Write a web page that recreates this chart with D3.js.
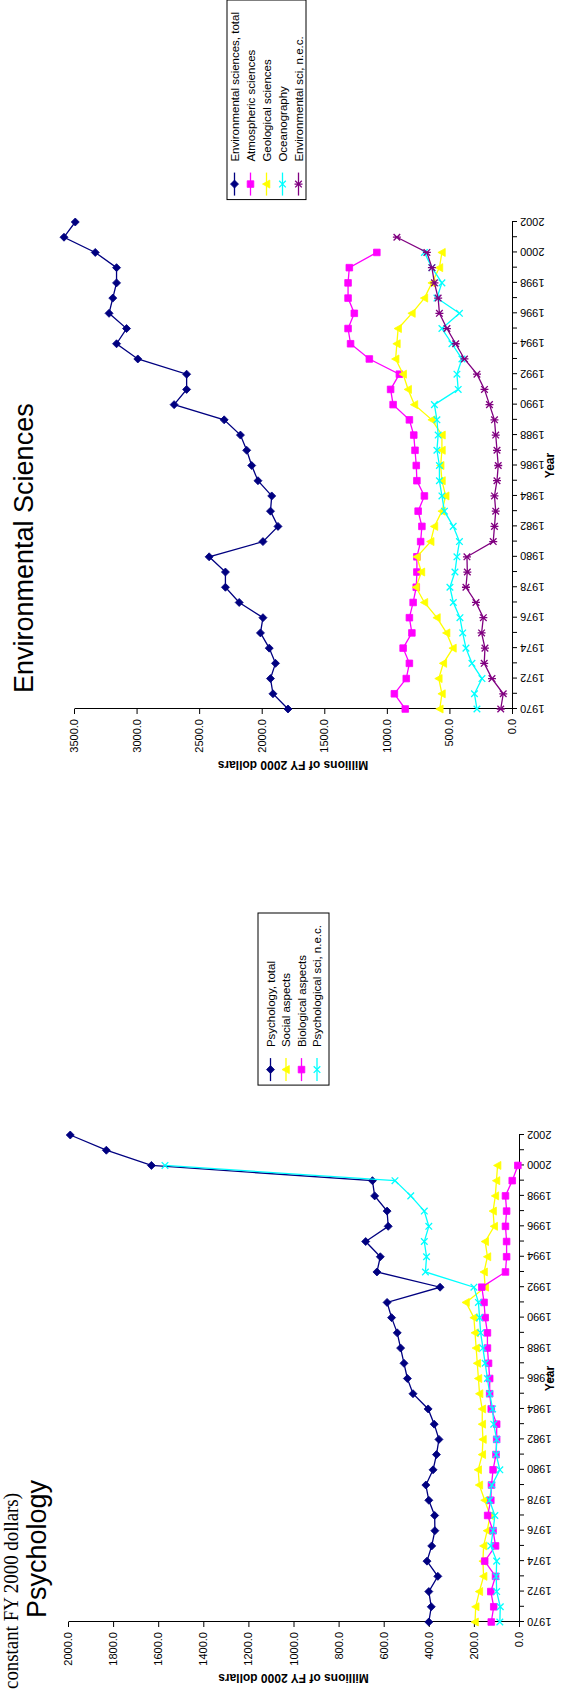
<!DOCTYPE html>
<html><head><meta charset="utf-8">
<script src="https://cdn.jsdelivr.net/npm/d3@7"></script>
<style>body{margin:0;background:#fff;overflow:hidden}</style>
</head><body>
<svg id="c" width="565" height="1690" xmlns="http://www.w3.org/2000/svg"></svg>
<script>
// ---------- DATA ----------
const years = [1970,1971,1972,1973,1974,1975,1976,1977,1978,1979,1980,1981,1982,1983,1984,1985,1986,1987,1988,1989,1990,1991,1992,1993,1994,1995,1996,1997,1998,1999,2000,2001,2002];

// Psychology
const psychTotal  = [400,389,400,360,408,387,373,374,400,413,381,366,355,376,403,470,495,510,525,540,565,585,350,630,615,680,580,585,640,650,1630,1830,1990];
const psychSocial = [195,192,176,157,160,157,141,128,152,176,181,163,160,163,163,175,180,185,190,195,200,235,150,155,140,150,110,115,105,100,95,null,null];
const psychBio    = [123,112,125,104,152,104,115,139,125,122,115,102,99,99,123,130,130,135,140,140,150,155,165,60,55,55,60,55,60,30,5,null,null];
const psychNec    = [85,83,99,101,99,125,115,107,131,120,85,101,99,112,117,130,140,150,160,170,175,180,200,415,410,420,400,420,480,550,1570,null,null];
const psychNames  = ["Psychology, total","Social aspects","Biological aspects","Psychological sci, n.e.c."];
const psychTicks  = [0,200,400,600,800,1000,1200,1400,1600,1800,2000];

// Environmental sciences
const envTotal = [1790,1910,1930,1890,1940,2010,1990,2180,2290,2290,2420,1990,1870,1930,1920,2030,2080,2120,2170,2300,2700,2600,2600,2990,3160,3080,3220,3190,3160,3160,3330,3580,3490];
const envAtmos = [853,940,845,820,870,800,820,790,765,760,760,730,720,750,700,760,765,775,785,820,950,970,900,1140,1290,1310,1260,1310,1310,1300,1080,null,null];
const envGeo   = [577,560,585,549,472,523,600,700,767,724,760,650,620,560,530,560,570,560,560,640,780,830,870,930,920,910,800,700,640,580,560,null,null];
const envOcean = [280,300,240,320,368,394,416,469,496,456,440,420,470,540,560,580,580,600,590,600,620,430,440,400,480,560,420,600,560,640,700,null,null];
const envNec   = [90,70,160,222,216,243,229,288,368,357,360,150,140,130,140,120,110,120,130,140,180,220,280,380,450,520,580,590,620,640,680,920,null];
const envNames = ["Environmental sciences, total","Atmospheric sciences","Geological sciences","Oceanography","Environmental sci, n.e.c."];
const envTicks = [0,500,1000,1500,2000,2500,3000,3500];

// ---------- STYLE ----------
const FONT = "'Liberation Sans', Arial, sans-serif";
const svg = d3.select('#c');
// whole page is the original landscape sheet rotated 90deg counter-clockwise
const root = svg.append('g').attr('transform','translate(0,1690) rotate(-90)');

function markerPath(type){
  switch(type){
    case 'diamond': return 'M0,-4L4,0L0,4L-4,0Z';
    case 'square': return 'M-3.3,-3.3H3.3V3.3H-3.3Z';
    case 'triangle': return 'M0,-4L4,3.3L-4,3.3Z';
    case 'x': return 'M-3.3,-3.3L3.3,3.3M-3.3,3.3L3.3,-3.3';
    case 'star': return 'M-3.3,-3.3L3.3,3.3M-3.3,3.3L3.3,-3.3M0,-4V4';
  }
}
function drawMarker(sel,type,color){
  const filled = (type==='diamond'||type==='square'||type==='triangle');
  sel.append('path').attr('d',markerPath(type))
    .attr('fill',filled?color:'none')
    .attr('stroke',color).attr('stroke-width',filled?0.8:1.3);
}

function drawChart(cfg){
  const g = root.append('g').attr('transform',`translate(${cfg.u0},0)`);
  const x = d3.scalePoint().domain(years).range([cfg.x0,cfg.x1]);
  const y = d3.scaleLinear().domain([0,cfg.ymax]).range([cfg.yb,cfg.yt]);

  const ya = g.append('g').attr('transform',`translate(${cfg.x0},0)`)
    .call(d3.axisLeft(y).tickValues(cfg.ticks).tickFormat(d=>d.toFixed(1)).tickSize(5).tickSizeOuter(0).tickPadding(5));
  const xa = g.append('g').attr('transform',`translate(0,${cfg.yb})`)
    .call(d3.axisBottom(x).tickValues(years).tickFormat(d=> d%2===0 ? String(d) : '').tickSize(5).tickSizeOuter(0));
  xa.selectAll('text').attr('transform','rotate(-90)').attr('text-anchor','end')
    .attr('x',-8).attr('y',0).attr('dy','0.35em');
  [ya,xa].forEach(a=>{
    a.selectAll('text').attr('font-family',FONT).attr('font-size',11).attr('fill','#000');
    a.selectAll('path,line').attr('stroke','#000').attr('stroke-width',1);
  });

  g.append('text').attr('transform',`translate(${cfg.ytU},${(cfg.yb+cfg.yt)/2}) rotate(-90)`)
    .attr('text-anchor','middle').attr('dy','0.35em')
    .attr('font-family',FONT).attr('font-size',12).attr('font-weight','bold')
    .text('Millions of FY 2000 dollars');
  g.append('text').attr('x',(cfg.x0+cfg.x1)/2).attr('y',cfg.xtV)
    .attr('text-anchor','middle').attr('dy','0.35em')
    .attr('font-family',FONT).attr('font-size',12).attr('font-weight','bold')
    .text('Year');

  cfg.series.forEach(s=>{
    const pts = years.map((yr,i)=>({yr, v:s.data[i]})).filter(d=>d.v!=null);
    g.append('path').datum(pts)
      .attr('d',d3.line().x(d=>x(d.yr)).y(d=>y(d.v)))
      .attr('fill','none').attr('stroke',s.color).attr('stroke-width',1.3);
    g.append('g').selectAll('g').data(pts).join('g')
      .attr('transform',d=>`translate(${x(d.yr)},${y(d.v)})`)
      .each(function(){ drawMarker(d3.select(this),s.marker,s.color); });
  });

  g.append('text').attr('x',cfg.titleU).attr('y',cfg.titleV)
    .attr('font-family',FONT).attr('font-size',27).text(cfg.title);

  const lg = g.append('g');
  const texts = [];
  cfg.series.forEach((s,i)=>{
    const t = lg.append('text').attr('y',cfg.legV0+i*cfg.legStep).attr('dy','0.35em')
      .attr('font-family',FONT).attr('font-size',11.5).text(s.name);
    texts.push(t);
  });
  const maxLen = d3.max(texts,t=>t.node().getComputedTextLength());
  const right = cfg.legRight;
  const textStart = right - 12 - maxLen;
  texts.forEach(t=>t.attr('x',textStart));
  const boxLeft = textStart - 38;
  lg.insert('rect',':first-child').attr('x',boxLeft).attr('y',cfg.legTop)
    .attr('width',right-boxLeft).attr('height',cfg.legBottom-cfg.legTop)
    .attr('fill','#fff').attr('stroke','#000').attr('stroke-width',1);
  cfg.series.forEach((s,i)=>{
    const vy = cfg.legV0+i*cfg.legStep;
    lg.append('line').attr('x1',boxLeft+4).attr('x2',boxLeft+27).attr('y1',vy).attr('y2',vy)
      .attr('stroke',s.color).attr('stroke-width',1.3);
    const m = lg.append('g').attr('transform',`translate(${boxLeft+15.5},${vy})`);
    drawMarker(m,s.marker,s.color);
  });
  return g;
}

const C = {navy:'#000080', magenta:'#FF00FF', yellow:'#FFFF00', cyan:'#00FFFF', purple:'#800080'};

drawChart({
  u0:0, x0:68, x1:555, yb:519, yt:68, ymax:2000, ticks:psychTicks,
  ytU:12, xtV:550, title:'Psychology', titleU:72, titleV:46,
  legRight:777, legTop:258, legBottom:329, legV0:270.5, legStep:15.5,
  series:[
    {name:psychNames[0], data:psychTotal, color:C.navy, marker:'diamond'},
    {name:psychNames[1], data:psychSocial, color:C.yellow, marker:'triangle'},
    {name:psychNames[2], data:psychBio, color:C.magenta, marker:'square'},
    {name:psychNames[3], data:psychNec, color:C.cyan, marker:'x'}
  ]
});
drawChart({
  u0:913, x0:68, x1:555, yb:512, yt:74, ymax:3500, ticks:envTicks,
  ytU:12, xtV:550, title:'Environmental Sciences', titleU:84, titleV:33,
  legRight:777, legTop:227, legBottom:306, legV0:234.5, legStep:16,
  series:[
    {name:envNames[0], data:envTotal, color:C.navy, marker:'diamond'},
    {name:envNames[1], data:envAtmos, color:C.magenta, marker:'square'},
    {name:envNames[2], data:envGeo, color:C.yellow, marker:'triangle'},
    {name:envNames[3], data:envOcean, color:C.cyan, marker:'x'},
    {name:envNames[4], data:envNec, color:C.purple, marker:'star'}
  ]
});

// fragment of the page heading, cut by the page edge as in the reference
root.append('text').attr('x',1).attr('y',18).attr('text-anchor','start')
  .attr('font-family',"'Liberation Serif','Times New Roman',serif").attr('font-size',21)
  .attr('textLength',196).attr('lengthAdjust','spacingAndGlyphs')
  .text('constant FY 2000 dollars)');
</script>
</body></html>
